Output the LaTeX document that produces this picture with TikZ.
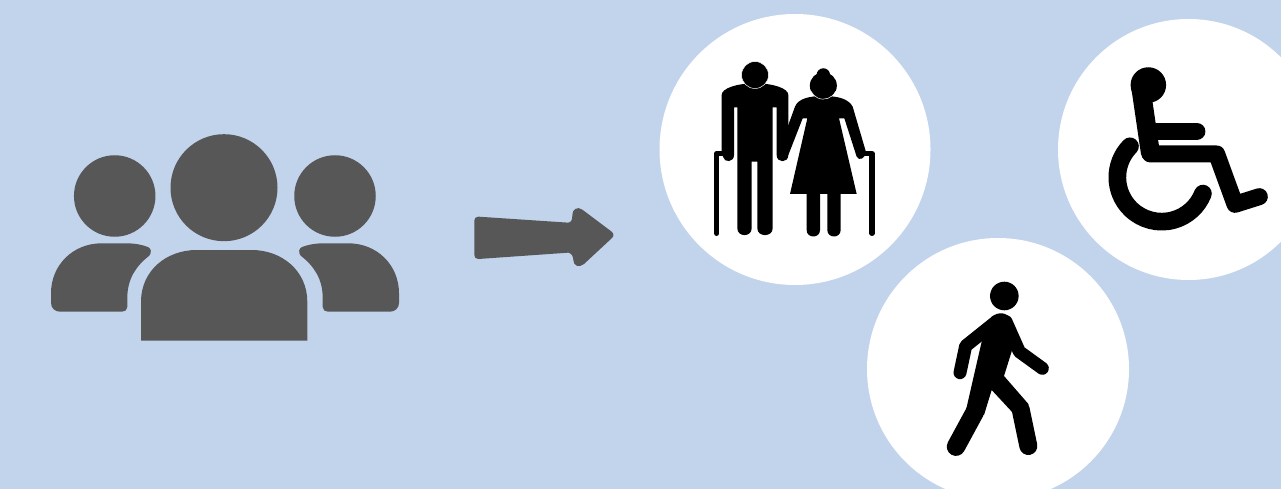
\documentclass[tikz,border=0pt]{standalone}
\usepackage{xcolor}
\definecolor{skyback}{RGB}{194,211,236}
\definecolor{inkgray}{RGB}{87,87,87}

\begin{document}
\begin{tikzpicture}[x=1pt,y=-1pt,
  disc/.style={circle,fill=white,inner sep=0pt},
  grayhead/.style={circle,fill=inkgray,inner sep=0pt},
  blackhead/.style={circle,fill=black,inner sep=0pt},
  limb/.style={draw=black,line cap=round,line join=round},
  zoomed/.style={x=0.33333pt,y=-0.33333pt}]
\clip (0,0) rectangle (1281,489);
\fill[skyback] (0,0) rectangle (1281,489);
\node[disc,minimum size=271pt] (elderdisc) at (795,149.5) {};
\node[disc,minimum size=261pt] (wheeldisc) at (1188.5,149.5) {};
\node[disc,minimum size=262pt] (walkdisc) at (998,369) {};
% group of three
\node[grayhead,minimum size=107pt] (midhead) at (224,187.7) {};
\node[grayhead,minimum size=81.5pt] (lefthead) at (114.7,196) {};
\node[grayhead,minimum size=81.5pt] (righthead) at (335,196) {};
\fill[inkgray] (141,340.5) -- (141,301.7) .. controls (141,271) and (166,250) .. (196.7,250)
  -- (251.7,250) .. controls (282,250) and (307.3,271) .. (307.3,301.7) -- (307.3,340.5) -- cycle;
\fill[inkgray] (51,293.3) .. controls (51,265) and (73,243.3) .. (101.7,243.3) -- (126.7,243.3)
  .. controls (135,243.3) and (143,245) .. (148,247) .. controls (151,248.5) and (152,252) .. (149.3,255.7)
  .. controls (136,266) and (127.3,279) .. (127.3,298) -- (127.3,307) .. controls (127.3,310) and (125,311.7) .. (122,311.7)
  -- (60,311.7) .. controls (55,311.7) and (51,308) .. (51,303) -- cycle;
\fill[inkgray] (399,293.3) .. controls (399,265) and (377,243.3) .. (348.3,243.3) -- (323.3,243.3)
  .. controls (315,243.3) and (307,245) .. (302,247) .. controls (299,248.5) and (298,252) .. (300.7,255.7)
  .. controls (314,266) and (322.7,279) .. (322.7,298) -- (322.7,307) .. controls (322.7,310) and (325,311.7) .. (328,311.7)
  -- (390,311.7) .. controls (395,311.7) and (399,308) .. (399,303) -- cycle;
% arrow
\begin{scope}[shift={(465,200)},zoomed]
\fill[inkgray] (40,50) -- (310,68) .. controls (320,66) and (322,58) .. (322,45)
  .. controls (322,28) and (337,18) .. (352,29) -- (440,95) .. controls (447,102) and (447,108) .. (440,115)
  -- (357,192) .. controls (342,205) and (325,197) .. (325,180) .. controls (325,170) and (320,160) .. (310,158)
  -- (40,177) .. controls (32,177) and (28,172) .. (28,165) -- (28,62) .. controls (28,55) and (32,50) .. (40,50) -- cycle;
\end{scope}
% old couple
\begin{scope}[shift={(700,50)},zoomed]
\fill[black] (65,310) -- (65,135) .. controls (65,115) and (110,100) .. (165,100)
  .. controls (220,100) and (265,115) .. (265,135) -- (265,315) .. controls (265,340) and (230,340) .. (230,315)
  -- (230,172) -- (218,172) -- (218,535) .. controls (218,562) and (172,562) .. (172,535) -- (172,335) -- (155,335)
  -- (155,535) .. controls (155,562) and (112,562) .. (112,535) -- (112,172) -- (102,172) -- (102,315)
  .. controls (102,338) and (72,338) .. (70,322) -- cycle;
\draw[limb,line width=5.3pt] (50,550) -- (50,311) -- (70,311);
\fill[black] (232,315) -- (285,170) .. controls (295,145) and (330,138) .. (370,138)
  .. controls (410,138) and (445,145) .. (458,170) -- (497,303) .. controls (500,325) and (475,335) .. (470,320)
  -- (433,205) -- (417,205) -- (470,432) -- (422,432) -- (422,540) .. controls (422,566) and (382,566) .. (382,540)
  -- (382,432) -- (360,432) -- (360,540) .. controls (360,566) and (320,566) .. (320,540) -- (320,432) -- (270,432)
  -- (322,205) -- (308,205) -- (265,315) -- cycle;
\draw[limb,line width=5.3pt] (516,550) -- (516,311) -- (490,311);
\node[blackhead,draw=white,line width=0.5pt,minimum size=27pt] (manhead) at (165,75) {};
\node[blackhead,minimum size=13.5pt] (womanbun) at (370,75) {};
\node[blackhead,minimum size=27pt] (womanhead) at (370,107) {};
\draw[white,line width=0.5pt] (370,107) ++(25:40.5) arc (25:155:40.5);
\end{scope}
% wheelchair
\begin{scope}[shift={(1090,55)},zoomed]
\node[blackhead,minimum size=35.5pt] (chairhead) at (175,90) {};
\draw[limb,line width=19pt] (152,95) -- (181,292);
\draw[limb,line width=17pt] (181,297) -- (380,297) -- (435,448) -- (508,425);
\draw[limb,line width=17.5pt] (185,229) -- (320,229);
\draw[limb,line width=17.7pt] (215,367) ++(224.4:133) arc (224.4:21.5:133);
\end{scope}
% walker
\begin{scope}[shift={(930,270)},zoomed]
\node[blackhead,minimum size=28.6pt] (walkhead) at (223,78) {};
\draw[limb,line width=13pt] (197,156) -- (107,228) -- (90,308);
\draw[limb,line width=13pt] (228,155) -- (268,245) -- (337,295);
\fill[black] (185,140) .. controls (205,125) and (230,125) .. (245,150) -- (262,190) -- (222,318)
  -- (296,403) -- (250,430) -- (185,360) -- (162,435) -- (108,420) -- (155,215) -- cycle;
\draw[limb,line width=18.5pt] (135,425) -- (78,530);
\draw[limb,line width=18pt] (272,418) -- (295,528);
\end{scope}
\end{tikzpicture}
\end{document}
